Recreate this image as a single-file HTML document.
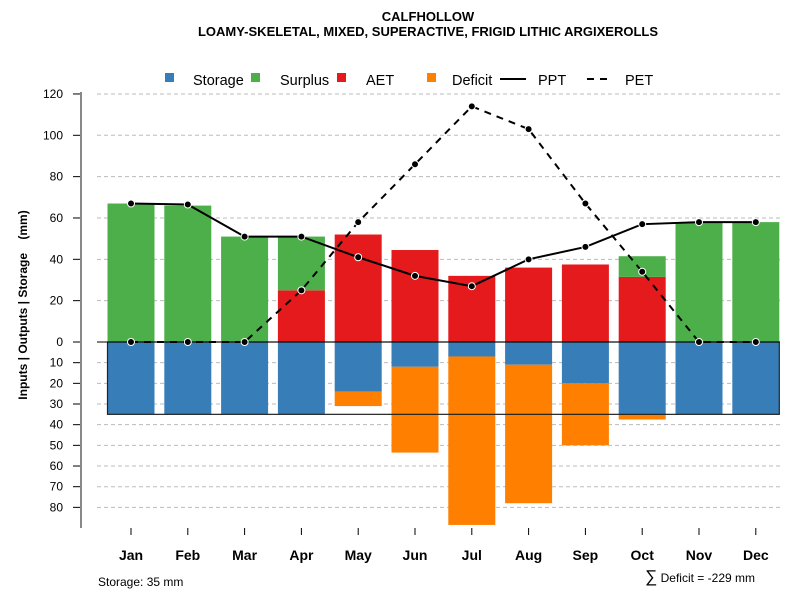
<!DOCTYPE html>
<html><head><meta charset="utf-8"><style>
body{margin:0;background:#fff}
svg text{font-family:"Liberation Sans",sans-serif}
</style></head><body>
<svg id="c" width="800" height="600" xmlns="http://www.w3.org/2000/svg">
<text x="428" y="21" text-anchor="middle" font-size="13" font-weight="bold">CALFHOLLOW</text>
<text x="428" y="36" text-anchor="middle" font-size="13" font-weight="bold">LOAMY-SKELETAL, MIXED, SUPERACTIVE, FRIGID LITHIC ARGIXEROLLS</text>
<g>
<rect x="165" y="73" width="9" height="9" fill="#377EB8"/>
<text x="193" y="85" font-size="14.5">Storage</text>
<rect x="251" y="73" width="9" height="9" fill="#4DAF4A"/>
<text x="280" y="85" font-size="14.5">Surplus</text>
<rect x="337" y="73" width="9" height="9" fill="#E41A1C"/>
<text x="366" y="85" font-size="14.5">AET</text>
<rect x="427" y="73" width="9" height="9" fill="#FF7F00"/>
<text x="452" y="85" font-size="14.5">Deficit</text>
<line x1="500" y1="79" x2="526" y2="79" stroke="#000" stroke-width="2"/>
<text x="538" y="85" font-size="14.5">PPT</text>
<line x1="587" y1="79" x2="610" y2="79" stroke="#000" stroke-width="2" stroke-dasharray="7,6"/>
<text x="625" y="85" font-size="14.5">PET</text>
</g>
<g id="grid"></g><g id="bars"></g><g id="lines"></g><g id="axes"></g>
<text x="27" y="305" transform="rotate(-90 27 305)" text-anchor="middle" font-size="12" font-weight="bold" xml:space="preserve">Inputs | Outputs | Storage    (mm)</text>
<text x="98" y="586" font-size="12">Storage: 35 mm</text>
<text x="755" y="582" text-anchor="end" font-size="12"><tspan font-size="17">∑</tspan> Deficit = -229 mm</text>
</svg>
<script>
const months=["Jan","Feb","Mar","Apr","May","Jun","Jul","Aug","Sep","Oct","Nov","Dec"];
const ppt=[67,66.5,51,51,41,32,27,40,46,57,58,58];
const pet=[0,0,0,25,58,86,114,103,67,34,0,0];
const aet=[0,0,0,25,52,44.5,32,36,37.5,31.5,0,0];
const surplus=[67,66,51,26,0,0,0,0,0,10,58,58];
const storage=[35,35,35,35,24,12,7,11,20,35,35,35];
const deficit=[0,0,0,0,7,41.5,81.5,67,30,2.5,0,0];
const upTicks=[0,20,40,60,80,100,120];
const downTicks=[0,10,20,30,40,50,60,70,80];
const NS="http://www.w3.org/2000/svg";
const y0=342,k=2.067;
const yU=v=>y0-v*k, yD=v=>y0+v*k;
const xc=i=>131+i*56.8, bw=47;
function mk(p,t,a){const e=document.createElementNS(NS,t);for(const n in a)e.setAttribute(n,a[n]);document.getElementById(p).appendChild(e);return e;}
upTicks.forEach(t=>{const g=mk('grid','line',{x1:97,x2:780,y1:yU(t),y2:yU(t),stroke:'#bbb','stroke-dasharray':'4,3'});


const tk=mk('axes','line',{x1:73,x2:81,y1:yU(t),y2:yU(t),stroke:'#000'});


const l=mk('axes','text',{x:63,y:yU(t)+4,'text-anchor':'end','font-size':12});l.textContent=t;

});
downTicks.slice(1).forEach(t=>{const g=mk('grid','line',{x1:97,x2:780,y1:yD(t),y2:yD(t),stroke:'#bbb','stroke-dasharray':'4,3'});


const tk=mk('axes','line',{x1:73,x2:81,y1:yD(t),y2:yD(t),stroke:'#000'});


const l=mk('axes','text',{x:63,y:yD(t)+4,'text-anchor':'end','font-size':12});l.textContent=t;

});
months.forEach((m,i)=>{const x=xc(i)-bw/2;
let r=mk('bars','rect',{x:x,y:yU(aet[i]),width:bw,height:aet[i]*k,fill:'#E41A1C'});


r=mk('bars','rect',{x:x,y:yU(aet[i]+surplus[i]),width:bw,height:surplus[i]*k,fill:'#4DAF4A'});


r=mk('bars','rect',{x:x,y:y0,width:bw,height:storage[i]*k,fill:'#377EB8'});


r=mk('bars','rect',{x:x,y:yD(storage[i]),width:bw,height:deficit[i]*k,fill:'#FF7F00'});


const tk=mk('axes','line',{x1:xc(i),x2:xc(i),y1:528,y2:535,stroke:'#000'});


const l=mk('axes','text',{x:xc(i),y:560,'text-anchor':'middle','font-size':14,'font-weight':'bold'});l.textContent=m;

});
const sb=mk('lines','rect',{x:xc(0)-bw/2,y:y0,width:xc(11)+bw/2-(xc(0)-bw/2),height:35*k,fill:'none',stroke:'#222','stroke-width':1.2});


const zl=mk('lines','line',{x1:97,x2:780,y1:y0,y2:y0,stroke:'#000'});


const pp=mk('lines','polyline',{points:ppt.map((v,i)=>xc(i)+','+yU(v)).join(' '),fill:'none',stroke:'#000','stroke-width':2});


const pe=mk('lines','polyline',{points:pet.map((v,i)=>xc(i)+','+yU(v)).join(' '),fill:'none',stroke:'#000','stroke-width':2,'stroke-dasharray':'7,6'});


[ppt,pet].forEach((s,j)=>s.forEach((v,i)=>{const c=mk('lines','circle',{cx:xc(i),cy:yU(v),r:3.5,fill:'#000',stroke:'#fff','stroke-width':1});

}));
const ax=mk('axes','line',{x1:81,x2:81,y1:92,y2:528,stroke:'#888','stroke-width':2});


</script>
</body></html>
